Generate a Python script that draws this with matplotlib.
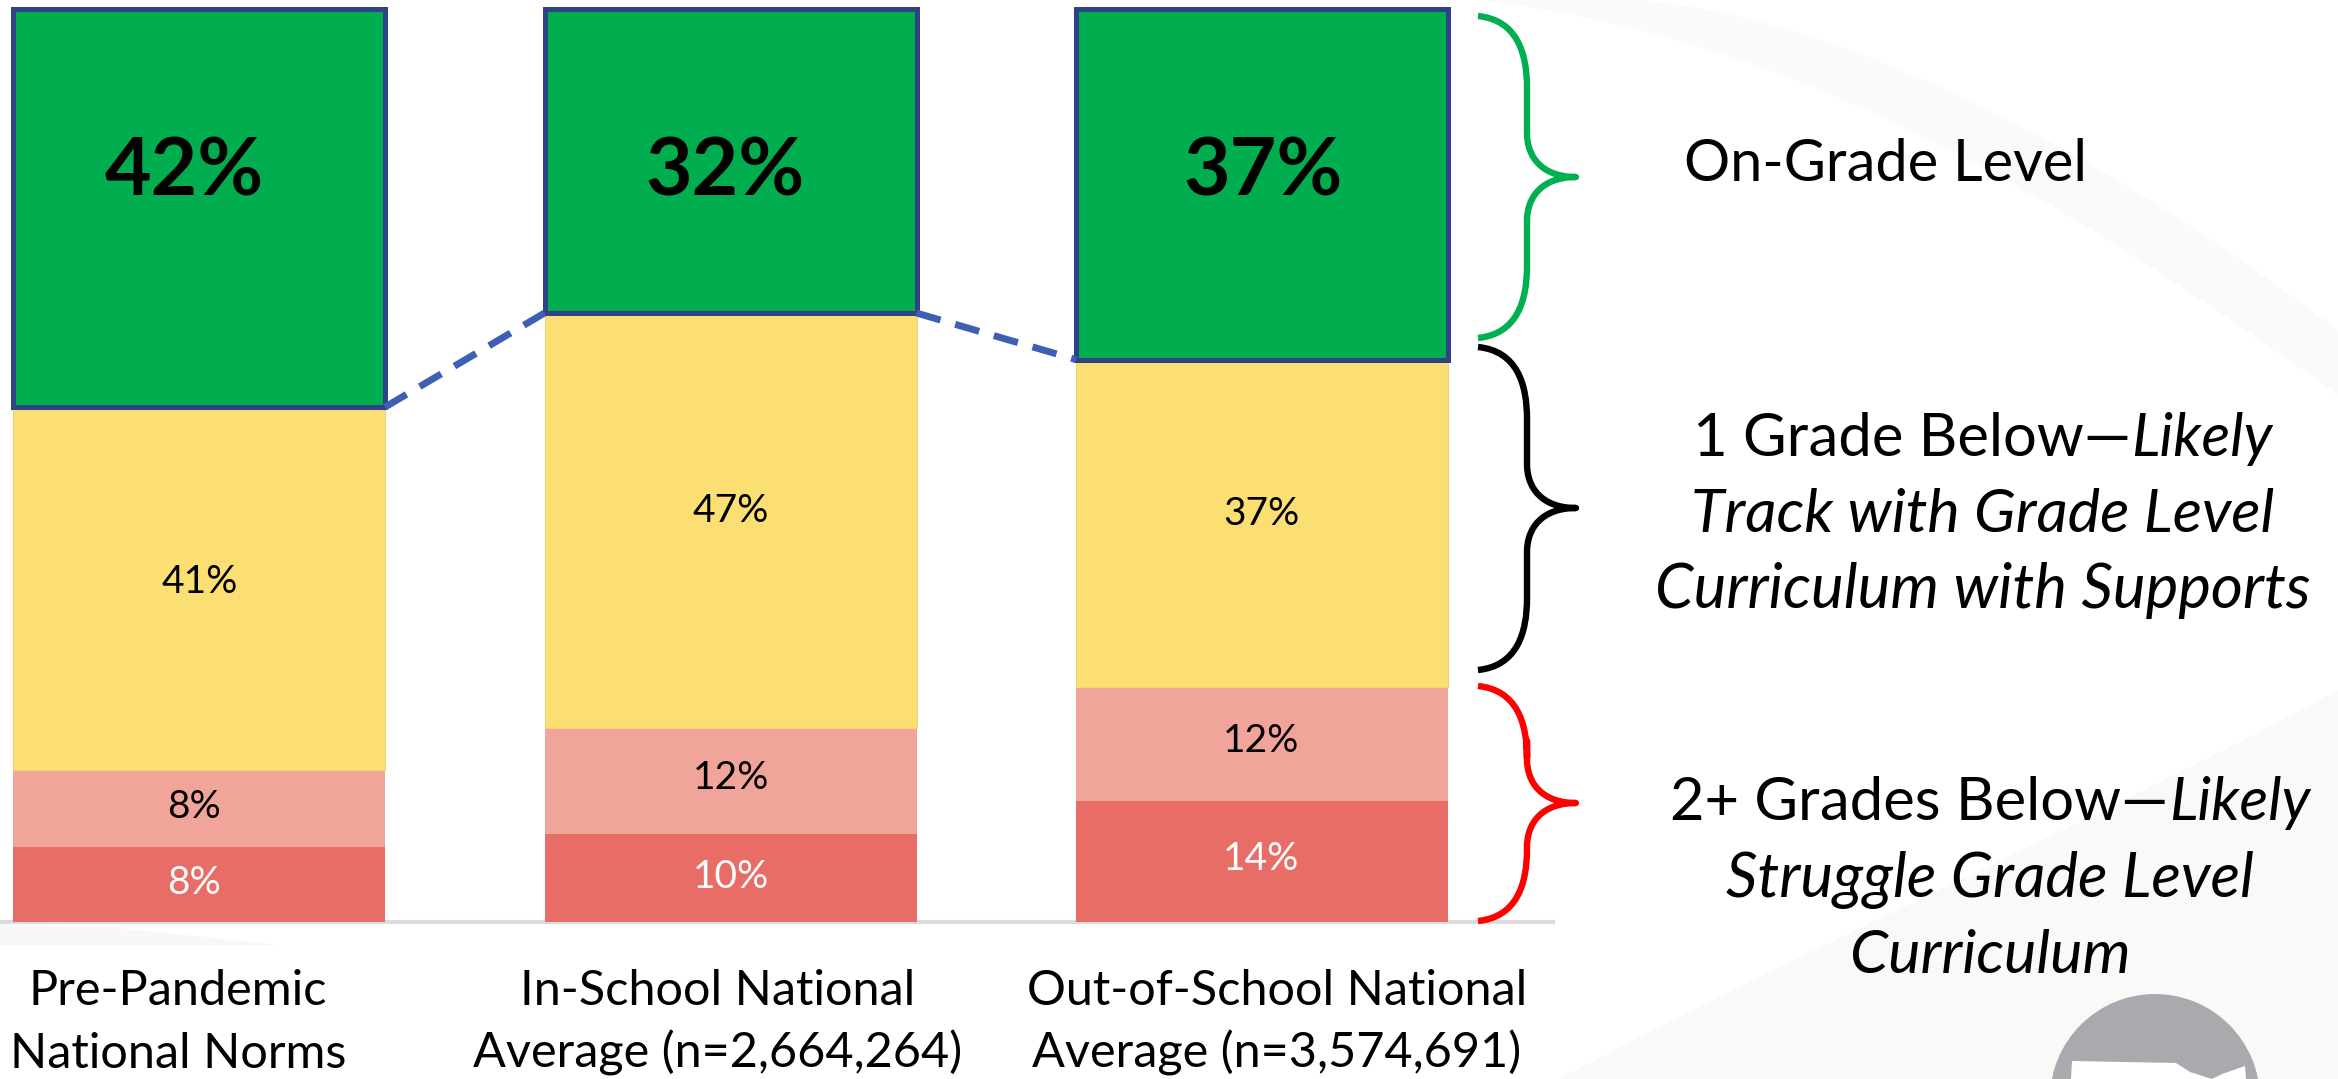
import matplotlib
matplotlib.use("Agg")
import matplotlib.pyplot as plt
import numpy as np
from matplotlib.path import Path
from matplotlib.patches import PathPatch, Polygon, Circle

W, H = 2338, 1079
FONT = "Lato"

# ---- data ----
categories = [["Pre-Pandemic", "National Norms"],
              ["In-School National", "Average (n=2,664,264)"],
              ["Out-of-School National", "Average (n=3,574,691)"]]
# printed percentages
label_on_grade = [42, 32, 37]
label_one_below = [41, 47, 37]
label_two_below = [8, 12, 12]
label_three_below = [8, 10, 14]
# drawn segment heights as they appear in the picture (share of full bar)
height_on_grade = [43.6, 33.3, 38.4]
height_one_below = [39.8, 45.5, 35.9]
height_two_below = [8.4, 11.6, 12.5]
height_three_below = [8.2, 9.6, 13.2]
legend_groups = ["On-Grade Level", "1 Grade Below", "2+ Grades Below"]

# ---- style ----
GREEN, YELLOW, PINK, RED = "#00AE50", "#FBDF73", "#F1A49A", "#E96D67"
EDGE, DASH = "#2F4285", "#3F5FB3"

fig = plt.figure(figsize=(W / 100, H / 100), dpi=100, facecolor="white")

# background layer in pixel coordinates
bg = fig.add_axes([0, 0, 1, 1], zorder=0)
bg.set_xlim(0, W); bg.set_ylim(H, 0); bg.axis("off")
swoosh = Path([(1480, 0), (1800, 40), (2050, 190), (2338, 395), (2338, 330), (2100, 150), (1850, 20), (1640, 0), (1480, 0)],
              [Path.MOVETO, Path.CURVE4, Path.CURVE4, Path.CURVE4, Path.LINETO, Path.CURVE4, Path.CURVE4, Path.CURVE4, Path.CLOSEPOLY])
bg.add_patch(PathPatch(swoosh, fc="#FBFAFA", ec="none"))
lower = Path([(1560, 1079), (1800, 950), (2100, 820), (2338, 690), (2338, 1079), (1560, 1079)],
             [Path.MOVETO, Path.CURVE4, Path.CURVE4, Path.CURVE4, Path.LINETO, Path.CLOSEPOLY])
bg.add_patch(PathPatch(lower, fc="#FAF9F8", ec="none"))
bg.add_patch(Polygon([(0, 925), (0, 945), (280, 945), (120, 928)], fc="#F9F8F8", ec="none"))
bg.add_patch(Circle((2155, 1099), 105, fc="#A9AAAD", ec="none"))
bg.add_patch(Polygon([(2072, 1061), (2176, 1063), (2190, 1072), (2212, 1079), (2222, 1074), (2245, 1066), (2246, 1079), (2071, 1079)],
                     fc="white", ec="none"))

# chart layer: y axis from baseline to top
x0_px, x1_px, base_px, top_px = 0, 1553, 922, 9
c0_px, step_px = 199, 531.5
ax = fig.add_axes([x0_px / W, 1 - base_px / H, (x1_px - x0_px) / W, (base_px - top_px) / H], zorder=1)
ax.patch.set_alpha(0)
ax.set_xlim((x0_px - c0_px) / step_px, (x1_px - c0_px) / step_px)
ax.set_ylim(0, 100)
for s in ("top", "left", "right"):
    ax.spines[s].set_visible(False)
ax.spines["bottom"].set_color("#DCDCDC"); ax.spines["bottom"].set_linewidth(3); ax.spines["bottom"].set_zorder(0.5)
ax.set_xticks([]); ax.set_yticks([])

x = np.arange(3)
bw = 372 / step_px
h3 = np.array(height_three_below)
h2 = np.array(height_two_below)
h1 = np.array(height_one_below)
h0 = np.array(height_on_grade)
ax.bar(x, h3, bw, color=RED, linewidth=0)
ax.bar(x, h2, bw, bottom=h3, color=PINK, linewidth=0)
ax.bar(x, h1, bw, bottom=h3 + h2, color=YELLOW, edgecolor="#EFD27A", linewidth=0.8)
tops = h3 + h2 + h1
ax.bar(x, h0, bw, bottom=tops, color=GREEN, edgecolor=EDGE, linewidth=3.6, clip_on=False)
for i in range(2):
    ax.plot([x[i] + bw / 2, x[i + 1] - bw / 2], [tops[i], tops[i + 1]], color=DASH, lw=5,
            dash_capstyle="butt", dashes=(3.6, 2.2), zorder=5)

# overlay for braces and text in pixel coordinates
ov = fig.add_axes([0, 0, 1, 1], zorder=2)
ov.set_xlim(0, W); ov.set_ylim(H, 0); ov.axis("off"); ov.patch.set_alpha(0)

def brace(top, tip, bottom, color):
    xa, xs, xt = 1478, 1527, 1576
    r = 52
    verts = [(xa, top), (xs - 10, top + 4), (xs, top + r - 15), (xs, top + r + 20),
             (xs, tip - r - 10), (xs, tip - r), (xs, tip - r + 8), (xs, tip - 20), (xs + 15, tip), (xt, tip),
             (xs + 15, tip), (xs, tip + 20), (xs, tip + r - 8),
             (xs, bottom - r - 20),
             (xs, bottom - r + 15), (xs - 10, bottom - 4), (xa, bottom)]
    codes = [Path.MOVETO, Path.CURVE4, Path.CURVE4, Path.CURVE4,
             Path.LINETO, Path.LINETO, Path.LINETO, Path.CURVE4, Path.CURVE4, Path.CURVE4,
             Path.CURVE4, Path.CURVE4, Path.CURVE4,
             Path.LINETO,
             Path.CURVE4, Path.CURVE4, Path.CURVE4]
    ov.add_patch(PathPatch(Path(verts, codes), fc="none", ec=color, lw=4.6, capstyle="butt", joinstyle="round"))

brace(16, 177, 338, "#00B050")
brace(347, 508, 670, "black")
brace(686, 803, 921, "#FF0000")

# bar value labels
big_x, big_y = [184, 725, 1263], 173
for xp, v in zip(big_x, label_on_grade):
    ov.text(xp, big_y, f"{v}%", fontsize=58, fontweight="bold", family=FONT, ha="center", va="center", color="black")
col_x = [[200, 731, 1261], [194, 731, 1261], [194, 731, 1261]]
col_y = [[582, 511, 514], [807, 778, 741], [883, 877, 859]]
for vals, xs, ys, c in zip([label_one_below, label_two_below, label_three_below], col_x, col_y, ["black", "black", "white"]):
    for xp, yp, v in zip(xs, ys, vals):
        ov.text(xp, yp, f"{v}%", fontsize=28, family=FONT, ha="center", va="center", color=c)

# category labels
cat_x = [178, 718, 1277]
for xp, lines in zip(cat_x, categories):
    ov.text(xp, 1005, lines[0], fontsize=35, family=FONT, ha="center", va="baseline", color="black")
    ov.text(xp, 1068, lines[1], fontsize=35, family=FONT, ha="center", va="baseline", color="black")

def mixed(cx, y, parts, fs):
    r = fig.canvas.get_renderer()
    arts = [ov.text(0, y, t, fontsize=fs, family=FONT, style=st, ha="left", va="baseline", color="black") for t, st in parts]
    ws = [a.get_window_extent(r).width for a in arts]
    xp = cx - sum(ws) / 2
    for a, w in zip(arts, ws):
        a.set_x(xp); xp += w

mixed(1885, 181, [(legend_groups[0], "normal")], 41.5)
mixed(1983, 456, [(legend_groups[1] + "—", "normal"), ("Likely", "italic")], 43)
mixed(1983, 532, [("Track with Grade Level", "italic")], 44)
mixed(1983, 608, [("Curriculum with Supports", "italic")], 44.5)
mixed(1990, 820, [(legend_groups[2] + "—", "normal"), ("Likely", "italic")], 43)
mixed(1990, 897, [("Struggle Grade Level", "italic")], 44.5)
mixed(1990, 973, [("Curriculum", "italic")], 44)

fig.savefig("out.png", dpi=100)
